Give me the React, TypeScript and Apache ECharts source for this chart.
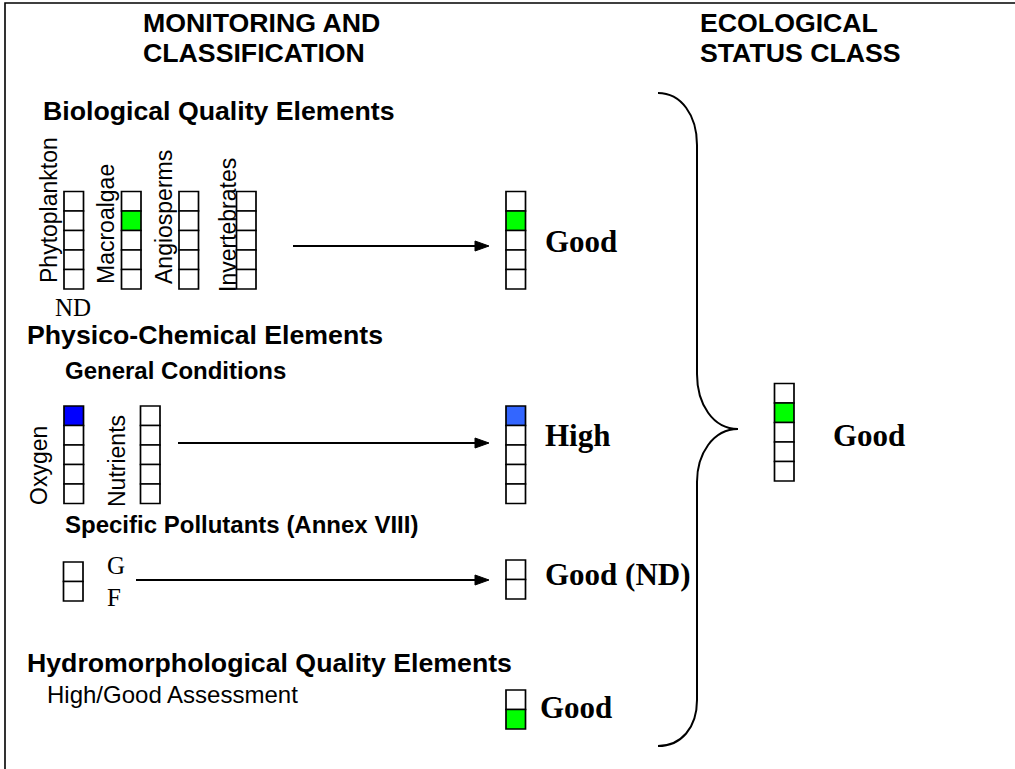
import React, { useEffect, useRef } from "react";
import * as echarts from "echarts";

// ---------- data ----------
const STATUS_CLASSES = ["High", "Good", "Moderate", "Poor", "Bad"];
const headerLeft = ["MONITORING AND", "CLASSIFICATION"];
const headerRight = ["ECOLOGICAL", "STATUS CLASS"];

const bioTitle = "Biological Quality Elements";
const bioElements = ["Phytoplankton", "Macroalgae", "Angiosperms", "Invertebrates"];
const bioStatus = ["", "Good", "", ""];
const bioNotes = ["ND", "", "", ""];
const bioResult = "Good";

const physTitle = "Physico-Chemical Elements";
const generalTitle = "General Conditions";
const generalElements = ["Oxygen", "Nutrients"];
const generalStatus = ["High", ""];
const generalResult = "High";

const pollutantTitle = "Specific Pollutants (Annex VIII)";
const pollutantClasses = ["G", "F"];
const pollutantStatus = "";
const pollutantResult = "Good (ND)";
const pollutantResultStatus = "";

const hydroTitle = "Hydromorphological Quality Elements";
const hydroLabel = "High/Good Assessment";
const hydroClasses = ["High", "Good"];
const hydroResult = "Good";

const ecoResult = "Good";

// ---------- styling ----------
const ELEMENT_COLORS: Record<string, string> = { High: "#0000ff", Good: "#00ff00" };
const RESULT_COLORS: Record<string, string> = { High: "#3366ff", Good: "#00ff00" };
const SANS = '"Liberation Sans", Arial, sans-serif';
const SERIF = '"Liberation Serif", "Times New Roman", serif';
const BOX_W = 19.5;
const BOX_H = 19.5;
const STROKE = 1.7;

function txt(text: string, x: number, y: number, font: string, extra: any = {}) {
  return {
    type: "text",
    x,
    y,
    silent: true,
    ...extra,
    style: {
      text,
      fill: "#000",
      font,
      align: extra.align || "left",
      textAlign: extra.align || "left",
      verticalAlign: "middle",
      textVerticalAlign: "middle",
    },
  };
}

function vtxt(text: string, cx: number, yStart: number, font: string) {
  return {
    type: "text",
    x: cx,
    y: yStart,
    rotation: Math.PI / 2,
    silent: true,
    style: {
      text,
      fill: "#000",
      font,
      align: "left",
      textAlign: "left",
      verticalAlign: "middle",
      textVerticalAlign: "middle",
    },
  };
}

function column(x: number, y: number, classes: string[], filled: string, colors: Record<string, string>) {
  return classes.map((c, i) => ({
    type: "rect",
    silent: true,
    shape: { x, y: y + i * BOX_H, width: BOX_W, height: BOX_H },
    style: { fill: c === filled && colors[c] ? colors[c] : "#ffffff", stroke: "#000", lineWidth: STROKE },
  }));
}

function arrow(x1: number, x2: number, y: number) {
  return [
    { type: "line", silent: true, shape: { x1, y1: y, x2: x2 - 10, y2: y }, style: { stroke: "#000", lineWidth: 2 } },
    {
      type: "polygon",
      silent: true,
      shape: { points: [[x2 - 14, y - 5], [x2, y], [x2 - 14, y + 5]] },
      style: { fill: "#000", stroke: "#000", lineWidth: 1 },
    },
  ];
}

function buildElements() {
  const els: any[] = [];
  const H1 = `bold 26.7px ${SANS}`;
  const H2 = `bold 24px ${SANS}`;
  const VL = `23px ${SANS}`;
  const RES = `bold 31px ${SERIF}`;
  const NOTE = `25px ${SERIF}`;

  // frame
  els.push({
    type: "polyline",
    silent: true,
    shape: { points: [[5, 780], [5, 3], [1030, 3]] },
    style: { stroke: "#000", lineWidth: 1.6, fill: null },
  });

  // headers
  headerLeft.forEach((t, i) => els.push(txt(t, 143, 23 + i * 30, H1)));
  headerRight.forEach((t, i) => els.push(txt(t, 700, 23 + i * 30, H1)));

  // biological
  els.push(txt(bioTitle, 43, 111, H1));
  const bioX = [64, 121.5, 179, 236.5];
  const bioLabelX = [49, 106, 164, 228];
  const bioLabelY = [283, 284, 284, 292];
  bioElements.forEach((name, i) => {
    els.push(...column(bioX[i], 191.5, STATUS_CLASSES, bioStatus[i], ELEMENT_COLORS));
    els.push(vtxt(name, bioLabelX[i], bioLabelY[i], VL));
    if (bioNotes[i]) els.push(txt(bioNotes[i], bioX[i] - 9, 307, NOTE));
  });
  els.push(...arrow(293, 489, 246));
  els.push(...column(506, 191.5, STATUS_CLASSES, bioResult, RESULT_COLORS));
  els.push(txt(bioResult, 545, 241.5, RES));

  // physico-chemical
  els.push(txt(physTitle, 27, 335, H1));
  els.push(txt(generalTitle, 65, 370, H2));
  const genX = [64, 140.5];
  const genLabelX = [38.5, 117];
  const genLabelY = [505, 507];
  generalElements.forEach((name, i) => {
    els.push(...column(genX[i], 406, STATUS_CLASSES, generalStatus[i], ELEMENT_COLORS));
    els.push(vtxt(name, genLabelX[i], genLabelY[i], VL));
  });
  els.push(...arrow(178, 489, 443));
  els.push(...column(506, 406, STATUS_CLASSES, generalResult, RESULT_COLORS));
  els.push(txt(generalResult, 545, 435, RES));

  // specific pollutants
  els.push(txt(pollutantTitle, 65, 524.5, H2));
  els.push(...column(63.5, 562, pollutantClasses, pollutantStatus, ELEMENT_COLORS));
  els.push(txt(pollutantClasses[0], 107, 565, NOTE));
  els.push(txt(pollutantClasses[1], 107, 597, NOTE));
  els.push(...arrow(136, 489, 580));
  els.push(...column(506, 560, pollutantClasses, pollutantResultStatus, RESULT_COLORS));
  els.push(txt(pollutantResult, 545, 574, RES));

  // hydromorphological
  els.push(txt(hydroTitle, 27, 663, H1));
  els.push(txt(hydroLabel, 47, 694, `24px ${SANS}`));
  els.push(...column(506, 690, hydroClasses, hydroResult, RESULT_COLORS));
  els.push(txt(hydroResult, 540, 707, RES));

  // brace
  const bs = { stroke: "#000", lineWidth: 2, fill: null };
  els.push({ type: "bezierCurve", silent: true, shape: { x1: 658, y1: 93, cpx1: 681, cpy1: 93, cpx2: 697, cpy2: 115, x2: 697, y2: 145 }, style: bs });
  els.push({ type: "line", silent: true, shape: { x1: 697, y1: 145, x2: 697, y2: 374 }, style: bs });
  els.push({ type: "bezierCurve", silent: true, shape: { x1: 697, y1: 374, cpx1: 697, cpy1: 404, cpx2: 713, cpy2: 429, x2: 738, y2: 429 }, style: bs });
  els.push({ type: "bezierCurve", silent: true, shape: { x1: 738, y1: 429, cpx1: 713, cpy1: 429, cpx2: 697, cpy2: 454, x2: 697, y2: 482 }, style: bs });
  els.push({ type: "line", silent: true, shape: { x1: 697, y1: 482, x2: 697, y2: 700 }, style: bs });
  els.push({ type: "bezierCurve", silent: true, shape: { x1: 697, y1: 700, cpx1: 697, cpy1: 728, cpx2: 681, cpy2: 746, x2: 658, y2: 746 }, style: bs });

  // ecological status
  els.push(...column(774.5, 383.5, STATUS_CLASSES, ecoResult, RESULT_COLORS));
  els.push(txt(ecoResult, 833, 435, RES));

  return els;
}

export default function App() {
  const ref = useRef<HTMLDivElement>(null);
  useEffect(() => {
    if (!ref.current) return;
    const chart = echarts.init(ref.current, undefined, { renderer: "svg" });
    chart.setOption({
      animation: false,
      backgroundColor: "#ffffff",
      graphic: { elements: buildElements() },
    });
    return () => chart.dispose();
  }, []);
  return (
    <div
      ref={ref}
      style={{ position: "absolute", left: 0, top: 0, width: 1015, height: 769, background: "#fff" }}
    />
  );
}
